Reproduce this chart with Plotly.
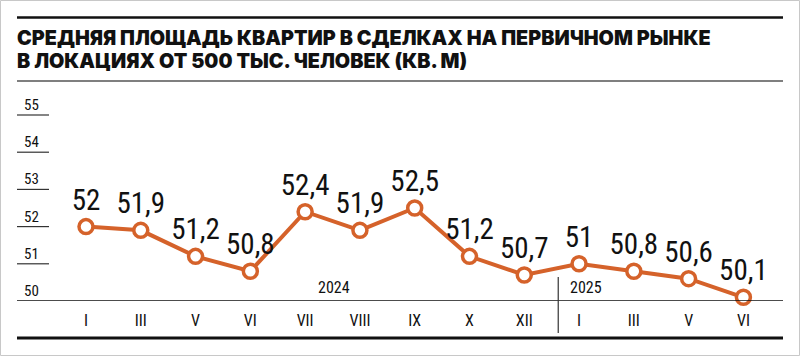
import plotly.graph_objects as go

months = ["I", "III", "V", "VI", "VII", "VIII", "IX", "X", "XII", "I", "III", "V", "VI"]
values = [52, 51.9, 51.2, 50.8, 52.4, 51.9, 52.5, 51.2, 50.7, 51, 50.8, 50.6, 50.1]
y_ticks = [50, 51, 52, 53, 54, 55]
years = ["2024", "2025"]
year_pos = [4.53, 9.12]
title_lines = ["СРЕДНЯЯ ПЛОЩАДЬ КВАРТИР В СДЕЛКАХ НА ПЕРВИЧНОМ РЫНКЕ",
               "В ЛОКАЦИЯХ ОТ 500 ТЫС. ЧЕЛОВЕК (КВ. М)"]

W, H = 800, 356
L, R, T, B = 17, 783, 100, 301  # plot area in pixels
ORANGE = "#D5622A"
NARROW = "Roboto Condensed, Liberation Sans Narrow, Arial Narrow, DejaVu Sans Condensed, sans-serif"
SEMI = "Roboto Condensed, Liberation Sans Narrow, DejaVu Sans Condensed, sans-serif"

def px(x):
    return (x - L) / (R - L)

def py(y):
    return (B - y) / (B - T)

def fmt(v):
    return str(int(v)) if float(v).is_integer() else str(v).replace(".", ",")

idx = list(range(len(months)))
x0 = 86.0
step = (743.4 - 86.0) / 12
xr = [0 - (x0 - L) / step, 12 + (R - 743.4) / step]
yr = [50, 50 + (B - T) / 37.2]

fig = go.Figure()
fig.add_trace(go.Scatter(
    x=idx, y=values, mode="lines+markers+text",
    text=[fmt(v) for v in values], textposition="top center",
    textfont=dict(family=NARROW, size=29, color="#111"),
    line=dict(color=ORANGE, width=4),
    marker=dict(size=14, color="white", line=dict(color=ORANGE, width=3.5)),
    cliponaxis=False, hoverinfo="skip", showlegend=False,
))

shapes = []
annotations = []
# frame
shapes.append(dict(type="rect", xref="paper", yref="paper",
                   x0=px(0.5), x1=px(799.5), y0=py(355.5), y1=py(0.5),
                   line=dict(color="#c8c8c8", width=1), layer="below"))
# top thick rule
shapes.append(dict(type="line", xref="paper", yref="paper", x0=px(17), x1=px(783),
                   y0=py(17.5), y1=py(17.5), line=dict(color="#111", width=2.5)))
# thin rule under title
shapes.append(dict(type="line", xref="paper", yref="paper", x0=px(17), x1=px(783),
                   y0=py(81), y1=py(81), line=dict(color="#555", width=1.3)))
# bottom thick rule
shapes.append(dict(type="line", xref="paper", yref="paper", x0=px(17), x1=px(783),
                   y0=py(338), y1=py(338), line=dict(color="#111", width=3)))
# x axis baseline
shapes.append(dict(type="line", xref="paper", yref="y", x0=0, x1=1,
                   y0=50, y1=50, line=dict(color="#111", width=1.3)))
# short y grid segments and labels
for t in y_ticks:
    if t != 50:
        shapes.append(dict(type="line", xref="paper", yref="y", x0=px(17), x1=px(49),
                           y0=t, y1=t, line=dict(color="#333", width=1.2)))
    annotations.append(dict(x=px(22), y=t, xref="paper", yref="y", text=str(t),
                            showarrow=False, xanchor="left", yanchor="middle", yshift=10,
                            font=dict(family=SEMI, size=15, color="#111")))
# year separator
shapes.append(dict(type="line", xref="x", yref="paper", x0=8.62, x1=8.62,
                   y0=py(277), y1=py(333), line=dict(color="#333", width=1.2)))
for yname, xp in zip(years, year_pos):
    annotations.append(dict(x=xp, y=py(287), xref="x", yref="paper", text=yname,
                            showarrow=False, xanchor="center", yanchor="middle",
                            font=dict(family=SEMI, size=16, color="#111")))
# title
for i, line in enumerate(title_lines):
    annotations.append(dict(x=px(15), y=py(38 + 23 * i), xref="paper", yref="paper", text=line,
                            showarrow=False, xanchor="left", yanchor="middle",
                            font=dict(family="Inter, Roboto, sans-serif", size=19.8, color="#111",
                                      weight=900)))

fig.update_layout(
    width=W, height=H,
    margin=dict(l=L, r=W - R, t=T, b=H - B),
    paper_bgcolor="white", plot_bgcolor="white",
    xaxis=dict(range=xr, tickmode="array", tickvals=idx, ticktext=months,
               showgrid=False, zeroline=False, showline=False, ticks="",
               ticklabelstandoff=8,
               tickfont=dict(family=SEMI, size=16, color="#111"), fixedrange=True),
    yaxis=dict(range=yr, showgrid=False, zeroline=False, showline=False,
               showticklabels=False, ticks="", fixedrange=True),
    shapes=shapes, annotations=annotations,
)

fig.write_html("out.html", config={"displayModeBar": False},
               post_script="document.body.style.margin='0px';")
